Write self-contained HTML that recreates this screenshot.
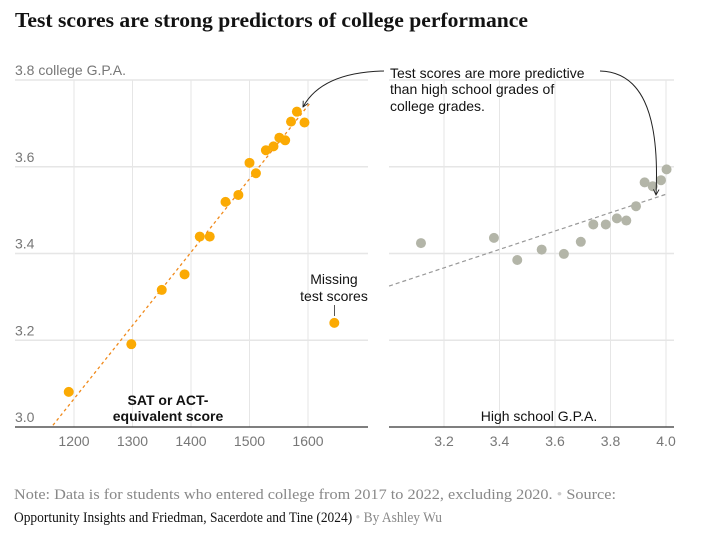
<!DOCTYPE html>
<html><head><meta charset="utf-8"><style>
html,body{margin:0;padding:0;background:#fff;}
svg{display:block;}
.tk{font-family:"Liberation Sans",sans-serif;font-size:14px;fill:#777;}
.an{font-family:"Liberation Sans",sans-serif;font-size:14px;fill:#121212;}
</style></head><body>
<svg id="c" width="722" height="548" viewBox="0 0 722 548" xmlns="http://www.w3.org/2000/svg">
<defs><marker id="ah" viewBox="0 0 10 10" refX="9" refY="5" markerWidth="7" markerHeight="7" orient="auto-start-reverse"><path d="M1,1 L9,5 L1,9" fill="none" stroke="#222" stroke-width="1.3"/></marker></defs>
<text x="15" y="27" font-family="Liberation Serif,serif" font-weight="bold" font-size="21" fill="#121212" textLength="513" lengthAdjust="spacingAndGlyphs">Test scores are strong predictors of college performance</text>
<g id="grid"></g>
<g id="marks"></g>
<text x="390" y="78" class="an">Test scores are more predictive</text>
<text x="390" y="94" class="an">than high school grades of</text>
<text x="390" y="111" class="an">college grades.</text>
<path d="M384,71 C340,72 315,85 303,107" fill="none" stroke="#222" stroke-width="1" marker-end="url(#ah)"/>
<path d="M600,71 C640,72 660,110 656,195" fill="none" stroke="#222" stroke-width="1" marker-end="url(#ah)"/>
<text x="334" y="284" text-anchor="middle" class="an">Missing</text>
<text x="334" y="301" text-anchor="middle" class="an">test scores</text>
<line x1="334.5" y1="305" x2="334.5" y2="316" stroke="#555"/>
<text x="168" y="405" text-anchor="middle" font-family="Liberation Sans,sans-serif" font-weight="bold" font-size="14" fill="#121212">SAT or ACT-</text>
<text x="168" y="421" text-anchor="middle" font-family="Liberation Sans,sans-serif" font-weight="bold" font-size="14" fill="#121212">equivalent score</text>
<text x="539" y="421" text-anchor="middle" class="an">High school G.P.A.</text>
<text x="14" y="499" font-family="Liberation Serif,serif" font-size="15" fill="#888" textLength="602" lengthAdjust="spacingAndGlyphs">Note: Data is for students who entered college from 2017 to 2022, excluding 2020.  <tspan fill="#ccc">•</tspan>  Source:</text>
<text x="14" y="522" font-family="Liberation Serif,serif" font-size="15" fill="#121212" textLength="428" lengthAdjust="spacingAndGlyphs">Opportunity Insights and Friedman, Sacerdote and Tine (2024)  <tspan fill="#ccc">•</tspan>  <tspan fill="#888">By Ashley Wu</tspan></text>
</svg>
<script>
const yTicks=[3.0,3.2,3.4,3.6,3.8];
const satTicks=[1200,1300,1400,1500,1600];
const gpaTicks=[3.2,3.4,3.6,3.8,4.0];
const satX=[1191,1298,1350,1389,1415,1432,1459,1481,1500,1511,1528,1541,1551,1561,1571,1581,1594];
const satY=[3.081,3.191,3.316,3.352,3.439,3.439,3.519,3.535,3.609,3.585,3.638,3.647,3.667,3.661,3.704,3.727,3.702];
const missingX=[1645];
const missingY=[3.240];
const satTrendX=[1164,1603];
const satTrendY=[3.004,3.746];
const hsX=[3.117,3.380,3.464,3.552,3.632,3.693,3.738,3.783,3.823,3.857,3.892,3.923,3.952,3.982,4.002];
const hsY=[3.424,3.436,3.385,3.409,3.399,3.427,3.467,3.467,3.481,3.476,3.509,3.564,3.555,3.569,3.594];
const hsTrendX=[3.002,4.002];
const hsTrendY=[3.325,3.537];

const NS="http://www.w3.org/2000/svg";
const yS=v=>427-(v-3.0)/0.8*347;
const xL=v=>74+(v-1200)*0.585;
const xR=v=>444+(v-3.2)*277.5;
const grid=document.getElementById('grid'), marks=document.getElementById('marks');
function mk(tag,attrs,parent){const e=document.createElementNS(NS,tag);for(const k in attrs)e.setAttribute(k,attrs[k]);parent.appendChild(e);return e;}
yTicks.forEach((t,i)=>{
  const y=yS(t);
  if(i>0){
    const l=mk('line',{x1:15,x2:368,y1:y,y2:y,stroke:'#e6e6e6','stroke-width':1.5},grid);
    
    
    const r=mk('line',{x1:389,x2:674,y1:y,y2:y,stroke:'#e6e6e6','stroke-width':1.5},grid);
    
    
  }
  const tx=mk('text',{x:15,y:y-5,class:'tk'},grid);
  tx.textContent=t.toFixed(1)+(i===yTicks.length-1?' college G.P.A.':'');
  
  
});
satTicks.forEach(t=>{
  const x=xL(t);
  const l=mk('line',{x1:x,x2:x,y1:80,y2:427,stroke:'#e6e6e6','stroke-width':1},grid);
  
  
  const tx=mk('text',{x:x,y:446,class:'tk','text-anchor':'middle'},grid);
  tx.textContent=t;
  
  
});
gpaTicks.forEach(t=>{
  const x=xR(t);
  const l=mk('line',{x1:x,x2:x,y1:80,y2:427,stroke:'#e6e6e6','stroke-width':1},grid);
  
  
  const tx=mk('text',{x:x,y:446,class:'tk','text-anchor':'middle'},grid);
  tx.textContent=t.toFixed(1);
  
  
});
const a1=mk('line',{x1:15,x2:368,y1:427,y2:427,stroke:'#333','stroke-width':1.2},grid);


const a2=mk('line',{x1:389,x2:674,y1:427,y2:427,stroke:'#333','stroke-width':1.2},grid);



const t1=mk('line',{x1:xL(satTrendX[0]),y1:yS(satTrendY[0]),x2:xL(satTrendX[1]),y2:yS(satTrendY[1]),stroke:'#f08a1c','stroke-width':1.3,'stroke-dasharray':'3,3'},marks);


const t2=mk('line',{x1:xR(hsTrendX[0]),y1:yS(hsTrendY[0]),x2:xR(hsTrendX[1]),y2:yS(hsTrendY[1]),stroke:'#999','stroke-width':1.2,'stroke-dasharray':'4,3'},marks);


satX.forEach((v,i)=>{
  const c=mk('circle',{cx:xL(v),cy:yS(satY[i]),r:5,fill:'#fbaa03'},marks);
  
  
});
missingX.forEach((v,i)=>{
  const c=mk('circle',{cx:xL(v),cy:yS(missingY[i]),r:5,fill:'#fbaa03'},marks);
  
  
});
hsX.forEach((v,i)=>{
  const c=mk('circle',{cx:xR(v),cy:yS(hsY[i]),r:5,fill:'#b3b5a8'},marks);
  
  
});
</script>
</body></html>
